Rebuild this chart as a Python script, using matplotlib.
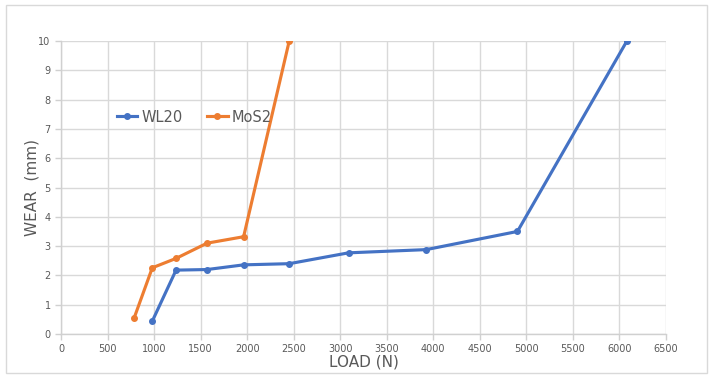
import matplotlib
matplotlib.use("Agg")
import matplotlib.pyplot as plt
from matplotlib.patches import Rectangle

wl20_load = [981, 1236, 1569, 1962, 2452, 3089, 3924, 4904, 6080]
wl20_wear = [0.44, 2.18, 2.20, 2.36, 2.40, 2.77, 2.88, 3.50, 10.0]
mos2_load = [785, 981, 1236, 1569, 1962, 2452]
mos2_wear = [0.54, 2.26, 2.58, 3.10, 3.32, 10.0]
x_ticks = list(range(0, 6501, 500))
y_ticks = list(range(0, 11))

W, H = 715, 380
fig = plt.figure(figsize=(W/100, H/100), dpi=100)
fig.patches.append(Rectangle((6/W, 1-373/H), (707-6)/W, (373-5)/H, transform=fig.transFigure,
                             fill=False, edgecolor='#d9d9d9', linewidth=1.0))
ax = fig.add_axes([61/W, 1-334/H, (666-61)/W, (334-41)/H])

blue = '#4472c4'
orange = '#ed7d31'
ax.plot(wl20_load, wl20_wear, color=blue, lw=2.25, marker='o', ms=4, label='WL20', zorder=3)
ax.plot(mos2_load, mos2_wear, color=orange, lw=2.25, marker='o', ms=4, label='MoS2', zorder=3)

ax.set_xlim(0, 6500)
ax.set_ylim(0, 10)
ax.set_xticks(x_ticks)
ax.set_yticks(y_ticks)
ax.grid(True, color='#d9d9d9', lw=1.0)
ax.set_axisbelow(True)
for s in ['top', 'right']:
    ax.spines[s].set_visible(False)
for s in ['left', 'bottom']:
    ax.spines[s].set_color('#d0d0d0')
    ax.spines[s].set_linewidth(1.0)
ax.tick_params(axis='both', colors='#d0d0d0', labelcolor='#595959', labelsize=7, length=4, width=1)
ax.tick_params(axis='x', pad=3)
for lab in ax.get_xticklabels() + ax.get_yticklabels():
    lab.set_family(['Liberation Sans Narrow', 'DejaVu Sans'])

ax.set_xlabel('LOAD (N)', fontsize=11, color='#595959', labelpad=0.5)
ax.set_ylabel('WEAR  (mm)', fontsize=11, color='#595959', labelpad=-1)

leg = ax.legend(loc='center left', bbox_to_anchor=((117-61)/605, (334-117)/293), ncol=2, frameon=False,
                fontsize=10.5, handlelength=1.4, columnspacing=1.7, handletextpad=0.25,
                borderaxespad=0, borderpad=0, labelcolor='#595959')

fig.savefig('out.png', dpi=100)
